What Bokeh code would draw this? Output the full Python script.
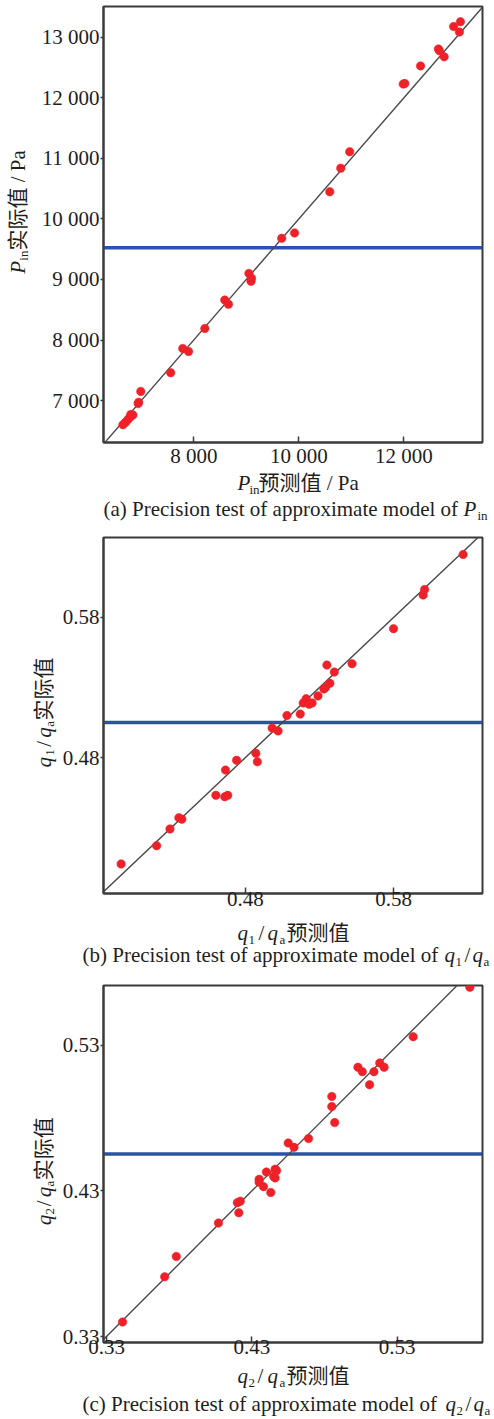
import math
from bokeh.plotting import figure
from bokeh.models import Label, Span, FixedTicker, Range1d
from bokeh.layouts import column, row
from bokeh.embed import file_html
from bokeh.resources import INLINE

# ---------------- data ----------------
# (a) P_in predicted vs actual (Pa)
pin_pred = [6650, 6700, 6740, 6780, 6800, 6840, 6940, 6950, 6990, 7560, 7790, 7900, 8210,
            8590, 8660, 9050, 9090, 9100, 9675, 9920, 10590, 10800, 10970, 11990, 12020,
            12320, 12660, 12680, 12770, 12950, 13060, 13080]
pin_act = [6600, 6640, 6680, 6720, 6770, 6760, 6950, 6970, 7150, 7460, 7860, 7810, 8190,
           8660, 8590, 9100, 8970, 9020, 9680, 9770, 10450, 10840, 11110, 12230, 12240,
           12530, 12810, 12780, 12680, 13180, 13090, 13260]
# (b) q1/qa predicted vs actual
q1_pred = [0.396, 0.420, 0.429, 0.435, 0.437, 0.460, 0.466, 0.468, 0.4665, 0.474, 0.487, 0.488,
           0.498, 0.502, 0.508, 0.517, 0.519, 0.521, 0.523, 0.525, 0.529, 0.533, 0.534, 0.537,
           0.535, 0.540, 0.552, 0.580, 0.600, 0.601, 0.627]
q1_act = [0.404, 0.417, 0.429, 0.437, 0.436, 0.453, 0.452, 0.453, 0.471, 0.478, 0.483, 0.477,
          0.501, 0.499, 0.510, 0.511, 0.519, 0.522, 0.518, 0.519, 0.524, 0.529, 0.530, 0.533,
          0.546, 0.541, 0.547, 0.572, 0.596, 0.600, 0.625]
# (c) q2/qa predicted vs actual
q2_pred = [0.341, 0.370, 0.378, 0.407, 0.420, 0.422, 0.421, 0.435, 0.435, 0.438, 0.443, 0.440,
           0.446, 0.445, 0.446, 0.447, 0.455, 0.459, 0.469, 0.485, 0.485, 0.487, 0.503, 0.506,
           0.514, 0.518, 0.521, 0.511, 0.541, 0.580]
q2_act = [0.340, 0.371, 0.385, 0.408, 0.422, 0.423, 0.415, 0.438, 0.436, 0.433, 0.429, 0.443,
          0.445, 0.440, 0.439, 0.444, 0.463, 0.460, 0.466, 0.495, 0.488, 0.477, 0.515, 0.512,
          0.512, 0.518, 0.515, 0.503, 0.536, 0.570]

# reference (blue) levels
pin_ref = 9524
q1_ref = 0.505
q2_ref = 0.4554

# ticks
a_xticks = [8000, 10000, 12000]
a_xlabels = ["8 000", "10 000", "12 000"]
a_yticks = [7000, 8000, 9000, 10000, 11000, 12000, 13000]
a_ylabels = ["7 000", "8 000", "9 000", "10 000", "11 000", "12 000", "13 000"]
b_ticks = [0.48, 0.58]
b_labels = ["0.48", "0.58"]
c_ticks = [0.33, 0.43, 0.53]
c_labels = ["0.33", "0.43", "0.53"]

# ---------------- styling ----------------
SERIF = "Liberation Serif"
MIXED = "Liberation Serif, Noto Sans CJK SC"
INK = "#1e1e1e"
FRAME = "#3a3a3a"
RED = "#ee2028"
BLUE = "#2a52a8"
DIAG = "#4a4a4a"
W = 494
FW = 379       # frame width
FR = 12        # right border
FRAME_LEFT = 103
SH = 0.37      # label anchor correction (fraction of font size)


def plot_fig(g, wl, xticks, xlabels, yticks, ylabels, xstand):
    p = figure(width=W - wl, frame_width=FW, frame_height=g["fh"],
               x_range=Range1d(g["x0"], g["x1"]), y_range=Range1d(g["y0"], g["y1"]),
               min_border_left=FRAME_LEFT - wl, min_border_right=FR,
               min_border_top=g["ft"] - g["top"], min_border_bottom=g["split"] - (g["ft"] + g["fh"]),
               output_backend="svg", toolbar_location=None)
    p.xgrid.visible = False
    p.ygrid.visible = False
    p.outline_line_color = FRAME
    p.outline_line_width = 2
    p.outline_line_alpha = 1.0
    for ax in (p.xaxis[0], p.yaxis[0]):
        ax.axis_line_color = FRAME
        ax.axis_line_width = 2
        ax.major_tick_line_color = FRAME
        ax.major_tick_line_width = 1.5
        ax.minor_tick_line_color = None
        ax.major_label_text_font = SERIF
        ax.major_label_text_font_size = "21px"
        ax.major_label_text_color = INK
    p.xaxis.major_tick_in = 6
    p.xaxis.major_tick_out = 0
    p.yaxis.major_tick_in = 0
    p.yaxis.major_tick_out = 3
    p.yaxis.major_label_standoff = 1
    p.xaxis.major_label_standoff = xstand
    p.xaxis.ticker = FixedTicker(ticks=xticks)
    p.yaxis.ticker = FixedTicker(ticks=yticks)
    p.xaxis.major_label_overrides = dict(zip(xticks, xlabels))
    p.yaxis.major_label_overrides = dict(zip(yticks, ylabels))
    return p


def text_fig(w, h):
    # a blank canvas whose frame is the whole figure; coordinates are pixels (y down)
    t = figure(width=w, height=h, x_range=Range1d(0, w), y_range=Range1d(h, 0),
               min_border=0, x_axis_location=None, y_axis_location=None,
               output_backend="svg", toolbar_location=None)
    t.outline_line_color = None
    t.grid.visible = False
    return t


def txt(t, x, y, s, size=21, italic=False, rot=False, font=SERIF):
    if rot:
        x -= SH * size
    else:
        y -= SH * size
    t.add_layout(Label(x=x, y=y, text=s, text_font=font, text_font_size=f"{size}px",
                       text_font_style="italic" if italic else "normal",
                       text_align="left", text_baseline="alphabetic",
                       angle=math.pi / 2 if rot else 0.0, text_color=INK))


def draw(p, g, xs, ys, ref):
    p.add_layout(Span(location=ref, dimension="width", line_color=BLUE, line_width=3.5,
                      level="underlay"))
    lo = min(g["x0"], g["y0"])
    hi = max(g["x1"], g["y1"])
    p.line(x=[lo, hi], y=[lo, hi], line_color=DIAG, line_width=1.4)
    p.scatter(x=xs, y=ys, size=8.5, fill_color=RED, line_color=RED, line_width=0.5)


# ---------------- panel (a) ----------------
ga = dict(top=0, ft=6, fh=436, split=470, bottom=527, x0=6280, x1=13500, y0=6306, y1=13512)
WLA = 34
pa = plot_fig(ga, WLA, a_xticks, a_xlabels, a_yticks, a_ylabels, 1)
draw(pa, ga, pin_pred, pin_act, pin_ref)
ya = text_fig(WLA, ga["split"] - ga["top"])
txt(ya, 25, 288, "P", italic=True, rot=True)
txt(ya, 28, 274, "in", size=13, rot=True)
txt(ya, 25, 263, "实际值 / Pa", rot=True, font=MIXED)
ba = text_fig(W, ga["bottom"] - ga["split"])
o = ga["split"]
txt(ba, 237, 490 - o, "P", italic=True)
txt(ba, 249, 494 - o, "in", size=13)
txt(ba, 258, 490 - o, "预测值 / Pa", font=MIXED)
txt(ba, 103, 516 - o, "(a) Precision test of approximate model of ")
txt(ba, 463, 516 - o, "P", italic=True)
txt(ba, 477, 520 - o, "in", size=13)

# ---------------- panel (b) ----------------
gb = dict(top=527, ft=537, fh=356, split=920, bottom=968, x0=0.3841, x1=0.6401, y0=0.3829, y1=0.6371)
WLB = 59
pb = plot_fig(gb, WLB, b_ticks, b_labels, b_ticks, b_labels, -2)
draw(pb, gb, q1_pred, q1_act, q1_ref)
yb = text_fig(WLB, gb["split"] - gb["top"])
o = gb["top"]
txt(yb, 51, 781 - o, "q", italic=True, rot=True)
txt(yb, 54, 768 - o, "1", size=13, rot=True)
txt(yb, 51, 758 - o, "/", rot=True)
txt(yb, 51, 748 - o, "q", italic=True, rot=True)
txt(yb, 54, 736 - o, "a", size=13, rot=True)
txt(yb, 51, 729 - o, "实际值", rot=True, font=MIXED)
bb = text_fig(W, gb["bottom"] - gb["split"])
o = gb["split"]
txt(bb, 237, 940 - o, "q", italic=True)
txt(bb, 248, 944 - o, "1", size=13)
txt(bb, 258, 940 - o, "/")
txt(bb, 267, 940 - o, "q", italic=True)
txt(bb, 279, 944 - o, "a", size=13)
txt(bb, 286, 940 - o, "预测值", font=MIXED)
txt(bb, 82, 962 - o, "(b) Precision test of approximate model of ")
txt(bb, 444, 962 - o, "q", italic=True)
txt(bb, 455, 966 - o, "1", size=13)
txt(bb, 464, 962 - o, "/")
txt(bb, 472, 962 - o, "q", italic=True)
txt(bb, 483, 966 - o, "a", size=13)

# ---------------- panel (c) ----------------
gc = dict(top=968, ft=985, fh=357, split=1364, bottom=1418, x0=0.3279, x1=0.5887, y0=0.3259, y1=0.5712)
WLC = 59
pc = plot_fig(gc, WLC, c_ticks, c_labels, c_ticks, c_labels, -3)
draw(pc, gc, q2_pred, q2_act, q2_ref)
yc = text_fig(WLC, gc["split"] - gc["top"])
o = gc["top"]
txt(yc, 51, 1234 - o, "q", italic=True, rot=True)
txt(yc, 54, 1222 - o, "2", size=13, rot=True)
txt(yc, 51, 1213 - o, "/", rot=True)
txt(yc, 51, 1203 - o, "q", italic=True, rot=True)
txt(yc, 54, 1191 - o, "a", size=13, rot=True)
txt(yc, 51, 1184 - o, "实际值", rot=True, font=MIXED)
bc = text_fig(W, gc["bottom"] - gc["split"])
o = gc["split"]
txt(bc, 237, 1383 - o, "q", italic=True)
txt(bc, 248, 1387 - o, "2", size=13)
txt(bc, 257, 1383 - o, "/")
txt(bc, 267, 1383 - o, "q", italic=True)
txt(bc, 279, 1387 - o, "a", size=13)
txt(bc, 286, 1383 - o, "预测值", font=MIXED)
txt(bc, 82, 1411 - o, "(c) Precision test of approximate model of ")
txt(bc, 445, 1411 - o, "q", italic=True)
txt(bc, 456, 1415 - o, "2", size=13)
txt(bc, 465, 1411 - o, "/")
txt(bc, 473, 1411 - o, "q", italic=True)
txt(bc, 484, 1415 - o, "a", size=13)

layout = column(row(ya, pa, spacing=0), ba,
                row(yb, pb, spacing=0), bb,
                row(yc, pc, spacing=0), bc, spacing=0)
open("out.html", "w").write(file_html(layout, INLINE))
